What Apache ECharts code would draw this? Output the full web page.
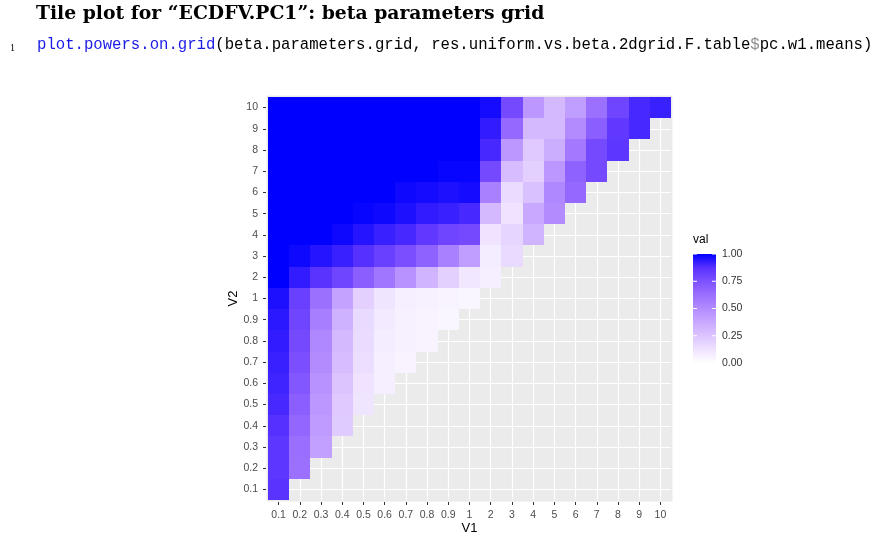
<!DOCTYPE html>
<html>
<head>
<meta charset="utf-8">
<script src="https://cdn.jsdelivr.net/npm/echarts@6/dist/echarts.min.js"></script>
<style>
html, body { margin: 0; padding: 0; background: #fff; }
#main { width: 877px; height: 538px; }
</style>
</head>
<body>
<div id="main"></div>
<script>
// categories of both axes (V1 and V2)
let cats = ['0.1', '0.2', '0.3', '0.4', '0.5', '0.6', '0.7', '0.8', '0.9', '1',
            '2', '3', '4', '5', '6', '7', '8', '9', '10'];

// one row per V2 value, entries for V1 = cats[0..] (only V1 <= V2 is filled)
let row_0_1 = [0.87];
let row_0_2 = [0.86, 0.62];
let row_0_3 = [0.86, 0.63, 0.41];
let row_0_4 = [0.88, 0.66, 0.43, 0.22];
let row_0_5 = [0.90, 0.70, 0.45, 0.23, 0.11];
let row_0_6 = [0.91, 0.73, 0.47, 0.25, 0.12, 0.07];
let row_0_7 = [0.92, 0.76, 0.50, 0.28, 0.14, 0.07, 0.05];
let row_0_8 = [0.93, 0.78, 0.52, 0.30, 0.15, 0.08, 0.06, 0.05];
let row_0_9 = [0.94, 0.80, 0.56, 0.33, 0.16, 0.09, 0.06, 0.05, 0.04];
let row_1   = [0.96, 0.82, 0.62, 0.40, 0.20, 0.11, 0.07, 0.06, 0.05, 0.04];
let row_2   = [1.00, 0.93, 0.87, 0.80, 0.70, 0.60, 0.47, 0.32, 0.20, 0.10, 0.07];
let row_3   = [1.00, 0.98, 0.95, 0.92, 0.88, 0.82, 0.76, 0.68, 0.55, 0.42, 0.08, 0.16];
let row_4   = [1.00, 1.00, 1.00, 0.98, 0.95, 0.92, 0.90, 0.85, 0.80, 0.78, 0.12, 0.18, 0.32];
let row_5   = [1.00, 1.00, 1.00, 1.00, 0.99, 0.98, 0.96, 0.93, 0.92, 0.90, 0.30, 0.12, 0.37, 0.50];
let row_6   = [1.00, 1.00, 1.00, 1.00, 1.00, 1.00, 0.98, 0.97, 0.96, 0.97, 0.55, 0.15, 0.27, 0.52, 0.65];
let row_7   = [1.00, 1.00, 1.00, 1.00, 1.00, 1.00, 1.00, 1.00, 0.99, 0.99, 0.78, 0.28, 0.20, 0.45, 0.68, 0.78];
let row_8   = [1.00, 1.00, 1.00, 1.00, 1.00, 1.00, 1.00, 1.00, 1.00, 1.00, 0.90, 0.45, 0.23, 0.35, 0.58, 0.78, 0.86];
let row_9   = [1.00, 1.00, 1.00, 1.00, 1.00, 1.00, 1.00, 1.00, 1.00, 1.00, 0.93, 0.65, 0.30, 0.30, 0.50, 0.70, 0.85, 0.90];
let row_10  = [1.00, 1.00, 1.00, 1.00, 1.00, 1.00, 1.00, 1.00, 1.00, 1.00, 0.97, 0.78, 0.45, 0.30, 0.42, 0.62, 0.80, 0.90, 0.92];

let legendBreaks = [1.00, 0.75, 0.50, 0.25, 0.00];
// white -> blue, sampled in Lab like ggplot's scale_fill_gradient
let gradient = ['#FFFFFF', '#EEE2FF', '#DCC4FF', '#C8A8FF', '#B38BFF',
                '#9B6FFF', '#7E52FF', '#5932FF', '#0000FF'];

let rowsByV2 = [row_0_1, row_0_2, row_0_3, row_0_4, row_0_5, row_0_6, row_0_7, row_0_8,
                row_0_9, row_1, row_2, row_3, row_4, row_5, row_6, row_7, row_8, row_9, row_10];

let tileData = [];
for (let j = 0; j < rowsByV2.length; j++) {
    for (let i = 0; i < rowsByV2[j].length; i++) {
        tileData.push([i, j, rowsByV2[j][i]]);
    }
}

// plot area (tiles) and legend bar
let gLeft = 268, gTop = 97, gW = 403, gH = 403;
let barLeft = 693, barTop = 254, barW = 23, barH = 109;

// legend bar: blue at top, white at bottom
let barStops = gradient.map(function (c, k) {
    return { offset: 1 - k / (gradient.length - 1), color: c };
}).reverse();

let graphics = [{
    type: 'rect', z: -10,
    shape: { x: gLeft - 1.5, y: gTop - 1.5, width: gW + 3, height: gH + 3 },
    style: { fill: '#EBEBEB' }
}, {
    type: 'text', left: barLeft, top: 234,
    style: { text: 'val', fontSize: 12, fill: '#000', fontFamily: 'Liberation Sans' }
}, {
    type: 'rect',
    shape: { x: barLeft, y: barTop, width: barW, height: barH },
    style: { fill: new echarts.graphic.LinearGradient(0, 0, 0, 1, barStops) }
}];
legendBreaks.forEach(function (v) {
    let y = barTop + (1 - v) * barH;
    graphics.push({
        type: 'text', x: barLeft + barW + 6, y: y,
        style: { text: v.toFixed(2), fontSize: 10.5, fill: '#333', fontFamily: 'Liberation Sans',
                 verticalAlign: 'middle' }
    });
    graphics.push({ type: 'line', z: 100, shape: { x1: barLeft, y1: y, x2: barLeft + 4, y2: y },
                    style: { stroke: '#fff', lineWidth: 1 } });
    graphics.push({ type: 'line', z: 100, shape: { x1: barLeft + barW - 4, y1: y, x2: barLeft + barW, y2: y },
                    style: { stroke: '#fff', lineWidth: 1 } });
});

let axisCommon = {
    type: 'category',
    data: cats,
    offset: 2,
    axisLine: { show: false },
    axisTick: { show: true, length: 3, alignWithLabel: true, lineStyle: { color: '#333' } },
    axisLabel: { color: '#4D4D4D', fontSize: 10.5, fontFamily: 'Liberation Sans', margin: 8, interval: 0 },
    splitLine: { show: true, alignWithLabel: true, lineStyle: { color: '#fff', width: 1.2 } },
    nameLocation: 'middle',
    nameTextStyle: { color: '#000', fontSize: 13, fontFamily: 'Liberation Sans' }
};

function px(v) {
    return Math.round(v + 0.001);
}

function renderTile(params, api) {
    let c = api.coord([api.value(0), api.value(1)]);
    let s = api.size([1, 1]);
    let x0 = px(c[0] - s[0] / 2), x1 = px(c[0] + s[0] / 2);
    let y0 = px(c[1] - s[1] / 2), y1 = px(c[1] + s[1] / 2);
    return {
        type: 'rect',
        shape: { x: x0, y: y0, width: x1 - x0, height: y1 - y0 },
        style: { fill: api.visual('color') }
    };
}

let myChart = echarts.init(document.getElementById('main'));
let option = {
    animation: false,
    backgroundColor: '#fff',
    title: [{
        text: 'Tile plot for \u201cECDFV.PC1\u201d: beta parameters grid',
        left: 36, top: 5, padding: 0,
        textStyle: { fontFamily: 'DejaVu Serif', fontWeight: 'bold', fontSize: 18.8, color: '#000' }
    }, {
        text: '{f|plot.powers.on.grid}(beta.parameters.grid, res.uniform.vs.beta.2dgrid.F.table{d|$}pc.w1.means)',
        left: 37, top: 37, padding: 0,
        textStyle: {
            fontFamily: 'Liberation Mono', fontSize: 15.65, color: '#000', fontWeight: 'normal',
            rich: {
                f: { fontFamily: 'Liberation Mono', fontSize: 15.65, color: '#1A1AE6' },
                d: { fontFamily: 'Liberation Mono', fontSize: 15.65, color: '#8C8C8C' }
            }
        }
    }, {
        text: '1', left: 10, top: 43, padding: 0,
        textStyle: { fontFamily: 'Liberation Serif', fontSize: 10, color: '#000', fontWeight: 'normal' }
    }],
    grid: { left: gLeft, top: gTop, width: gW, height: gH, containLabel: false, outerBoundsMode: 'none' },
    xAxis: Object.assign({}, axisCommon, { position: 'bottom', name: 'V1', nameGap: 20, nameMoveOverlap: false }),
    yAxis: Object.assign({}, axisCommon, { position: 'left', name: 'V2', nameGap: 25, nameRotate: 90 }),
    visualMap: {
        type: 'continuous', min: 0, max: 1, show: false, dimension: 2, seriesIndex: 0,
        inRange: { color: gradient }
    },
    graphic: graphics,
    series: [{
        type: 'custom',
        renderItem: renderTile,
        data: tileData,
        encode: { x: 0, y: 1 },
        emphasis: { disabled: true }
    }]
};
myChart.setOption(option);
</script>
</body>
</html>
